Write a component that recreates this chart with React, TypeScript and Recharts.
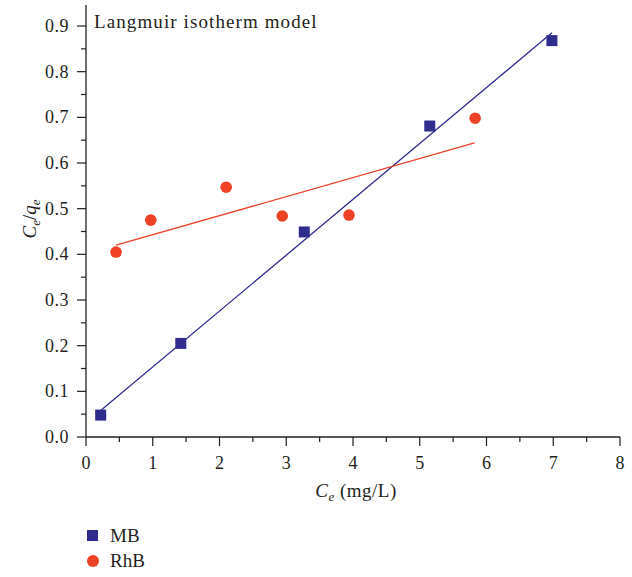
import React from 'react'
import { ComposedChart, Scatter, XAxis, YAxis, Customized } from 'recharts'

// Measured points (Ce in mg/L, Ce/qe)
const mbCe = [0.22, 1.42, 3.27, 5.15, 6.98]
const mbRatio = [0.048, 0.205, 0.449, 0.681, 0.868]
const rhbCe = [0.45, 0.97, 2.1, 2.94, 3.94, 5.83]
const rhbRatio = [0.405, 0.475, 0.547, 0.484, 0.486, 0.698]

// Linear fit endpoints
const mbFitCe = [0.22, 6.98]
const mbFitRatio = [0.058, 0.885]
const rhbFitCe = [0.45, 5.82]
const rhbFitRatio = [0.42, 0.644]

const xMajor = [0, 1, 2, 3, 4, 5, 6, 7, 8]
const xMinor = [0.5, 1.5, 2.5, 3.5, 4.5, 5.5, 6.5, 7.5]
const yMajor = [0, 0.1, 0.2, 0.3, 0.4, 0.5, 0.6, 0.7, 0.8, 0.9]
const yMinor = [0.05, 0.15, 0.25, 0.35, 0.45, 0.55, 0.65, 0.75, 0.85]

const MB_COLOR = '#302c8e'
const RHB_COLOR = '#ee4126'
const AXIS_COLOR = '#231f20'
const FONT = '"Liberation Serif", "Times New Roman", serif'

const toPoints = (xs: number[], ys: number[]) => xs.map((x, i) => ({ x, y: ys[i] }))

const mbData = toPoints(mbCe, mbRatio)
const rhbData = toPoints(rhbCe, rhbRatio)
const mbFit = toPoints(mbFitCe, mbFitRatio)
const rhbFit = toPoints(rhbFitCe, rhbFitRatio)

const xTicks = [...xMajor, ...xMinor].sort((a, b) => a - b)
const yTicks = [...yMajor, ...yMinor].sort((a, b) => a - b)

const isMajor = (list: number[], v: number) => list.some((m) => Math.abs(m - v) < 1e-6)

const SquareDot = (props: any) => {
    const { cx, cy } = props
    return <rect x={cx - 5.5} y={cy - 5.5} width={11} height={11} fill={MB_COLOR} />
}

const RoundDot = (props: any) => {
    const { cx, cy } = props
    return <circle cx={cx} cy={cy} r={5.8} fill={RHB_COLOR} />
}

const NoDot = () => <g />

const YTick = (props: any) => {
    const { x, y, payload } = props
    const major = isMajor(yMajor, payload.value)
    return (
        <g>
            <line x1={x} x2={x - (major ? 9 : 5)} y1={y} y2={y} stroke={AXIS_COLOR} strokeWidth={1.2} />
            {major && (
                <text x={x - 17} y={y} textAnchor="end" dominantBaseline="central"
                    fontFamily={FONT} fontSize={18} fill={AXIS_COLOR} letterSpacing={0.5}>
                    {payload.value.toFixed(1)}
                </text>
            )}
        </g>
    )
}

const XTick = (props: any) => {
    const { x, y, payload } = props
    const major = isMajor(xMajor, payload.value)
    return (
        <g>
            <line x1={x} x2={x} y1={y} y2={y + (major ? 9 : 5)} stroke={AXIS_COLOR} strokeWidth={1.2} />
            {major && (
                <text x={x} y={y + 26} textAnchor="middle" dominantBaseline="central"
                    fontFamily={FONT} fontSize={18} fill={AXIS_COLOR}>
                    {payload.value}
                </text>
            )}
        </g>
    )
}

// Title and axis titles
const Labels = () => (
    <g fontFamily={FONT} fill={AXIS_COLOR}>
        <text x={94} y={28} fontSize={19} letterSpacing={1.1}>Langmuir isotherm model</text>
        <text x={356} y={497} fontSize={19} textAnchor="middle" letterSpacing={0.5}>
            <tspan fontStyle="italic">C</tspan>
            <tspan fontStyle="italic" fontSize={13} dy={4}>e</tspan>
            <tspan dy={-4}> (mg/L)</tspan>
        </text>
        <text transform="translate(36, 219) rotate(-90)" fontSize={19} textAnchor="middle">
            <tspan fontStyle="italic">C</tspan>
            <tspan fontStyle="italic" fontSize={13} dy={4}>e</tspan>
            <tspan dy={-4}>/</tspan>
            <tspan fontStyle="italic">q</tspan>
            <tspan fontStyle="italic" fontSize={13} dy={4}>e</tspan>
        </text>
    </g>
)

export default function App() {
    return (
        <div style={{ position: 'absolute', left: 0, top: 0, width: 632, height: 577, background: '#fff' }}>
            <ComposedChart width={632} height={577} data={mbData}
                margin={{ top: 5, right: 12, bottom: 0, left: 0 }}>
                <XAxis dataKey="x" type="number" domain={[0, 8]} ticks={xTicks} interval={0}
                    height={140} tickSize={0} tickMargin={0} tickLine={false} tick={<XTick />}
                    axisLine={{ stroke: AXIS_COLOR, strokeWidth: 1.3 }} allowDataOverflow />
                <XAxis xAxisId="top" orientation="top" type="number" domain={[0, 8]} height={0}
                    tick={false} tickLine={false} axisLine={{ stroke: AXIS_COLOR, strokeWidth: 1.3 }} />
                <YAxis dataKey="y" type="number" domain={[0, 0.946]} ticks={yTicks} interval={0}
                    width={86} tickSize={0} tickMargin={0} tickLine={false} tick={<YTick />}
                    axisLine={{ stroke: AXIS_COLOR, strokeWidth: 1.3 }} allowDataOverflow />
                <YAxis yAxisId="right" orientation="right" type="number" domain={[0, 0.946]} width={0}
                    tick={false} tickLine={false} axisLine={{ stroke: AXIS_COLOR, strokeWidth: 1.3 }} />

                <Scatter data={mbFit} dataKey="y" shape={NoDot} line={{ stroke: MB_COLOR, strokeWidth: 1.3 }}
                    isAnimationActive={false} />
                <Scatter data={rhbFit} dataKey="y" shape={NoDot} line={{ stroke: RHB_COLOR, strokeWidth: 1.3 }}
                    isAnimationActive={false} />
                <Scatter name="MB" data={mbData} dataKey="y" shape={SquareDot} isAnimationActive={false} />
                <Scatter name="RhB" data={rhbData} dataKey="y" shape={RoundDot} isAnimationActive={false} />

                <Customized component={Labels} />
            </ComposedChart>

            {/* Legend */}
            <div style={{ position: 'absolute', left: 87, top: 523, fontFamily: FONT, fontSize: 19, color: AXIS_COLOR, lineHeight: '25px' }}>
                <div style={{ display: 'flex', alignItems: 'center' }}>
                    <span style={{ width: 11, height: 11, background: MB_COLOR, display: 'inline-block', marginRight: 12 }} />
                    <span>MB</span>
                </div>
                <div style={{ display: 'flex', alignItems: 'center' }}>
                    <span style={{ width: 12, height: 12, borderRadius: 6, background: RHB_COLOR, display: 'inline-block', marginRight: 11 }} />
                    <span>RhB</span>
                </div>
            </div>
        </div>
    )
}
